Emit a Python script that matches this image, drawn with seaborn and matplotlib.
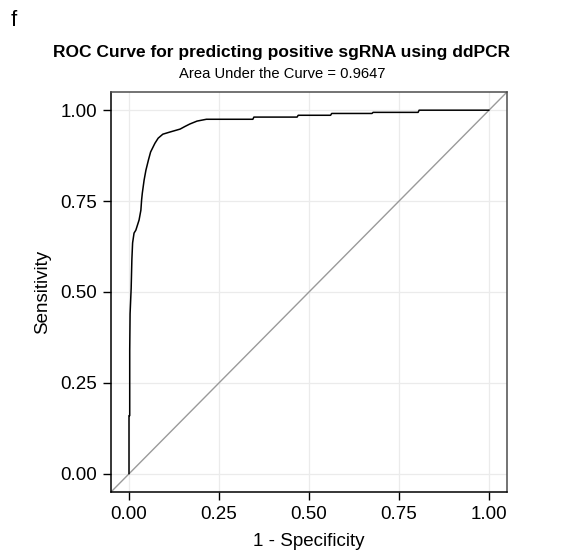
import pandas as pd
import seaborn as sns
import matplotlib.pyplot as plt

# ROC points (1 - specificity, sensitivity)
fpr = [0.000, 0.000, 0.002, 0.002, 0.003, 0.006, 0.008, 0.010, 0.014, 0.019,
       0.028, 0.033, 0.035, 0.037, 0.042, 0.047, 0.054, 0.060, 0.072, 0.081,
       0.094, 0.114, 0.142, 0.155, 0.169, 0.189, 0.215, 0.344, 0.347, 0.467,
       0.470, 0.560, 0.563, 0.675, 0.678, 0.803, 0.806, 1.000]
tpr = [0.000, 0.160, 0.160, 0.340, 0.440, 0.510, 0.590, 0.635, 0.662, 0.670,
       0.698, 0.725, 0.753, 0.772, 0.808, 0.835, 0.863, 0.885, 0.909, 0.923,
       0.934, 0.940, 0.948, 0.955, 0.962, 0.970, 0.975, 0.975, 0.981, 0.981,
       0.986, 0.986, 0.991, 0.991, 0.994, 0.994, 1.000, 1.000]
ticks = [0.00, 0.25, 0.50, 0.75, 1.00]
tick_labels = ["0.00", "0.25", "0.50", "0.75", "1.00"]
auc = 0.9647

df = pd.DataFrame({"fpr": fpr, "tpr": tpr})

sns.set_style("white")
plt.rcParams["font.family"] = ["Liberation Sans", "DejaVu Sans"]
plt.rcParams["text.color"] = "black"
plt.rcParams["axes.labelcolor"] = "black"

fig = plt.figure(figsize=(5.76, 5.53), dpi=100)
ax = fig.add_axes([111 / 576, 1 - 492 / 553, 396 / 576, 400 / 553])

# reference diagonal across the whole panel
ax.plot([-0.05, 1.05], [-0.05, 1.05], color="#9a9a9a", lw=1.0, zorder=2)
sns.lineplot(data=df, x="fpr", y="tpr", sort=False, estimator=None,
             color="black", lw=1.1, ax=ax, zorder=3)

ax.set_xlim(-0.05, 1.05)
ax.set_ylim(-0.05, 1.05)
ax.set_xticks(ticks)
ax.set_xticklabels(tick_labels)
ax.set_yticks(ticks)
ax.set_yticklabels(tick_labels)
ax.grid(True, color="#ebebeb", lw=0.9)
ax.set_axisbelow(True)
ax.tick_params(axis="both", which="major", direction="out", length=6, width=1,
               color="black", labelsize=13.5, labelcolor="black", pad=4,
               bottom=True, left=True)
for side in ["left", "bottom"]:
    ax.spines[side].set_color("black")
    ax.spines[side].set_linewidth(1.1)
for side in ["top", "right"]:
    ax.spines[side].set_color("#4d4d4d")
    ax.spines[side].set_linewidth(1.1)

ax.set_xlabel("1 - Specificity", fontsize=13.5, labelpad=7)
ax.set_ylabel("Sensitivity", fontsize=13.5, labelpad=7)

fig.text(282 / 576, 1 - 53 / 553, "ROC Curve for predicting positive sgRNA using ddPCR",
         ha="center", va="center", fontsize=12.5, fontweight="bold")
fig.text(282 / 576, 1 - 74 / 553, f"Area Under the Curve = {auc}",
         ha="center", va="center", fontsize=10.6)
fig.text(11 / 576, 1 - 21 / 553, "f", ha="left", va="center", fontsize=16)

fig.savefig("out.png", dpi=100)
